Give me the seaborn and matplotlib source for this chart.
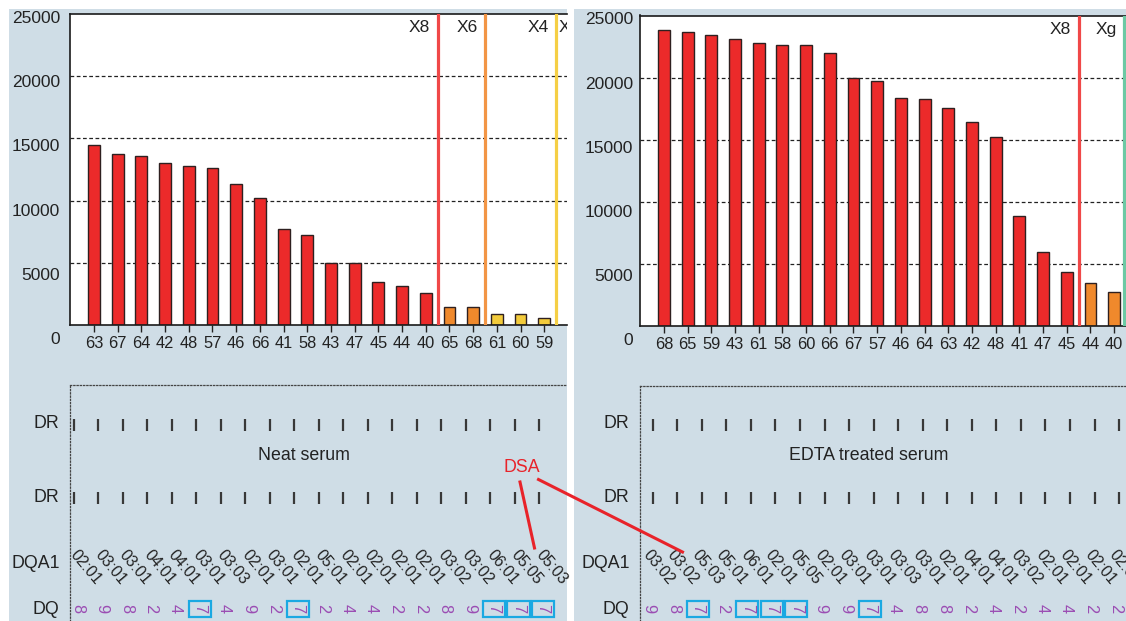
import numpy as np
import pandas as pd
import seaborn as sns
import matplotlib.pyplot as plt
from matplotlib.patches import Rectangle
from matplotlib.lines import Line2D

# ---- data ----
neat_alleles = ['63', '67', '64', '42', '48', '57', '46', '66', '41', '58',
                '43', '47', '45', '44', '40', '65', '68', '61', '60', '59']
neat_mfi = [14450, 13750, 13550, 13050, 12750, 12650, 11350, 10200, 7700, 7200,
            5000, 5000, 3450, 3100, 2600, 1450, 1450, 850, 850, 550]
neat_tier = ['r'] * 15 + ['o'] * 2 + ['y'] * 3
neat_dqa1 = ['02:01', '03:01', '03:01', '04:01', '04:01', '03:01', '03:03', '02:01', '03:01', '02:01',
             '05:01', '02:01', '02:01', '02:01', '02:01', '03:02', '03:02', '06:01', '05:05', '05:03']
neat_dq = ['8', '9', '8', '2', '4', '7', '4', '9', '2', '7',
           '2', '4', '4', '2', '2', '8', '9', '7', '7', '7']

edta_alleles = ['68', '65', '59', '43', '61', '58', '60', '66', '67', '57',
                '46', '64', '63', '42', '48', '41', '47', '45', '44', '40']
edta_mfi = [23800, 23700, 23450, 23100, 22800, 22600, 22600, 22000, 20000, 19750,
            18350, 18250, 17550, 16400, 15250, 8900, 6000, 4350, 3500, 2750]
edta_tier = ['r'] * 18 + ['o'] * 2
edta_dqa1 = ['03:02', '03:02', '05:03', '05:01', '06:01', '02:01', '05:05', '02:01', '03:01', '03:01',
             '03:03', '03:01', '02:01', '04:01', '04:01', '03:02', '02:01', '02:01', '02:01', '02:01']
edta_dq = ['9', '8', '7', '2', '7', '7', '7', '9', '9', '7',
           '4', '8', '8', '2', '4', '2', '4', '4', '2', '2']

neat_cuts = [14.5, 16.5, 19.5]
neat_cut_labels = ['X8', 'X6', 'X4']
edta_cuts = [17.5, 19.42]
edta_cut_labels = ['X8', 'Xg']

yticks = [0, 5000, 10000, 15000, 20000, 25000]

# ---- style ----
W, H = 1126, 621
BG = '#cfdde6'
INK = '#222222'
PURPLE = '#9b4db3'
CYAN = '#1aa9e2'
TIER_COLORS = {'r': '#ec2a2a', 'o': '#f0892c', 'y': '#f3cb3b'}
plt.rcParams['font.family'] = ['Liberation Sans', 'DejaVu Sans']


def rect(x0, y0, x1, y1):
    return [x0 / W, 1 - y1 / H, (x1 - x0) / W, (y1 - y0) / H]


def bar_panel(ax, alleles, mfi, tiers, xlim, cuts, cut_labels, cut_colors, gap):
    df = pd.DataFrame({'allele': alleles, 'mfi': mfi})
    sns.barplot(data=df, x='allele', y='mfi', hue='allele', order=alleles, hue_order=alleles,
                palette=[TIER_COLORS[t] for t in tiers], saturation=1, dodge=False, legend=False,
                width=0.5, edgecolor='#2e2020', linewidth=1.0, ax=ax, zorder=2)
    ax.set_xlim(*xlim)
    ax.set_ylim(0, 25000)
    ax.set_xlabel('')
    ax.set_ylabel('')
    for v in yticks[1:-1]:
        ax.axhline(v, color=INK, lw=0.9, ls=(0, (3, 2)), zorder=1)
    ax.set_yticks([])
    for v in yticks:
        ax.annotate(str(v), xy=(0, v * 1.033 - 1170), xycoords=('axes fraction', 'data'),
                    xytext=(-gap, 0), textcoords='offset points', ha='right', va='center',
                    fontsize=12.5, color=INK, annotation_clip=False)
    ax.spines['right'].set_visible(False)
    for s in ['left', 'top', 'bottom']:
        ax.spines[s].set_linewidth(1.2)
        ax.spines[s].set_color('#1a1a1a')
    ax.tick_params(axis='x', length=4.8, width=1, pad=3, labelsize=11.8, colors=INK)
    for c, lab, col in zip(cuts, cut_labels, cut_colors):
        ax.axvline(c, color=col, lw=2.3, zorder=3)
        ax.annotate(lab, xy=(c, 1), xycoords=('data', 'axes fraction'), xytext=(-5.5, -10),
                    textcoords='offset points', ha='right', va='center', fontsize=12.5, color=INK)


def hla_panel(ax, dqa1, dq, xlim, top, dqa1_shift, dq_shift, title):
    n = len(dq)
    idx = np.arange(n)
    ax.set_xlim(*xlim)
    ax.set_ylim(621, top)
    ax.set_facecolor('none')
    ax.set_xticks([])
    ax.set_yticks([])
    for s in ['right', 'bottom']:
        ax.spines[s].set_visible(False)
    for s in ['top', 'left']:
        ax.spines[s].set_linestyle((0, (1, 1.6)))
        ax.spines[s].set_linewidth(0.9)
        ax.spines[s].set_color('#444444')
    yt = ax.get_yaxis_transform()
    for y in (424.5, 498):
        ax.scatter(idx, np.full(n, y), marker='|', s=85, linewidths=1.6, color='#383838')
        ax.annotate('DR', xy=(0, y - 1), xycoords=yt, xytext=(-8, 0), textcoords='offset points',
                    ha='right', va='center', fontsize=12.8, color=INK, annotation_clip=False)
    ax.text(0.47, 456, title, transform=yt, ha='center', va='center', fontsize=12.8, color=INK)
    ax.annotate('DQA1', xy=(0, 563), xycoords=yt, xytext=(-7, 0), textcoords='offset points',
                ha='right', va='center', fontsize=12.8, color=INK, annotation_clip=False)
    ax.annotate('DQ', xy=(0, 609), xycoords=yt, xytext=(-8, 0), textcoords='offset points',
                ha='right', va='center', fontsize=12.8, color=INK, annotation_clip=False)
    for i, lab in enumerate(dqa1):
        ax.text(i + dqa1_shift, 567, lab, rotation=-50, ha='center', va='center',
                rotation_mode='anchor', fontsize=11.4, color=INK)
    for i, d in enumerate(dq):
        box = dict(boxstyle='square,pad=0.22', fc='none', ec=CYAN, lw=1.6) if d == '7' else None
        ax.text(i + dq_shift, 609, d, rotation=-90, ha='center', va='center',
                fontsize=11.8, color=PURPLE, bbox=box)


fig = plt.figure(figsize=(W / 100, H / 100), dpi=100)
for x0, x1 in [(9, 567), (574, 1126)]:
    fig.add_artist(Rectangle((x0 / W, 0), (x1 - x0) / W, 1 - 9 / H, transform=fig.transFigure,
                             fc=BG, ec='none', zorder=-5))

ax1 = fig.add_axes(rect(70, 14, 567, 325))
bar_panel(ax1, neat_alleles, neat_mfi, neat_tier, (-1.013, 19.96), neat_cuts, neat_cut_labels,
          ['#f04848', '#f29545', '#f5cf45'], 7)
ax1.annotate('X', xy=(neat_cuts[-1], 1), xycoords=('data', 'axes fraction'), xytext=(2, -10),
             textcoords='offset points', ha='left', va='center', fontsize=12.5, color=INK, clip_on=True)

ax2 = fig.add_axes(rect(640, 15.5, 1126, 326.3))
bar_panel(ax2, edta_alleles, edta_mfi, edta_tier, (-1.01, 19.5), edta_cuts, edta_cut_labels,
          ['#f04848', '#6cc9a4'], 5)

ax3 = fig.add_axes(rect(70, 385, 567, 621))
hla_panel(ax3, neat_dqa1, neat_dq, (-0.151, 20.13), 385, 0.49, 0.15, 'Neat serum')

ax4 = fig.add_axes(rect(640, 386, 1126, 621))
hla_panel(ax4, edta_dqa1, edta_dq, (-0.517, 19.28), 386, 0.23, -0.15, 'EDTA treated serum')

# DSA callout spanning both panels
fig.text(522 / W, 1 - 467 / H, 'DSA', color='#e8232a', fontsize=12.8, ha='center', va='center')
for (xa, ya), (xb, yb) in [((520, 482), (534.5, 548)), ((538.5, 479.5), (682.5, 552))]:
    fig.add_artist(Line2D([xa / W, xb / W], [1 - ya / H, 1 - yb / H], transform=fig.transFigure,
                          color='#e8232a', lw=2.2, zorder=10))

fig.savefig('out.png', dpi=100, facecolor='white')
